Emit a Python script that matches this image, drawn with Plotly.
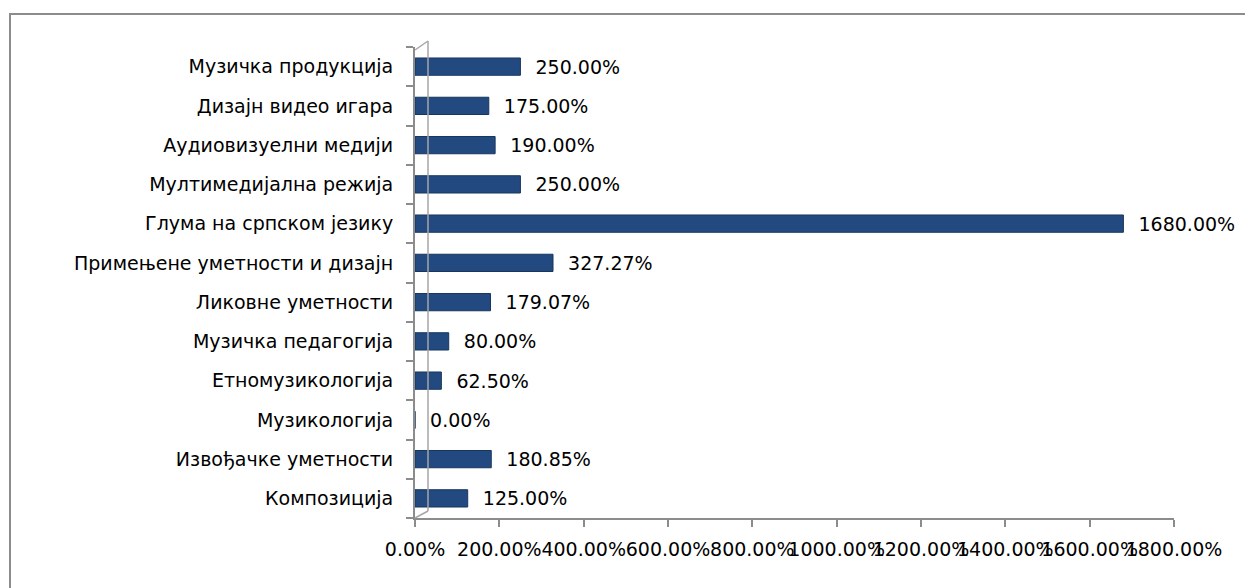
import plotly.graph_objects as go

programs = ["Музичка продукција", "Дизајн видео игара", "Аудиовизуелни медији",
            "Мултимедијална режија", "Глума на српском језику",
            "Примењене уметности и дизајн", "Ликовне уметности", "Музичка педагогија",
            "Етномузикологија", "Музикологија", "Извођачке уметности", "Композиција"]
growth = [250.00, 175.00, 190.00, 250.00, 1680.00, 327.27, 179.07, 80.00,
          62.50, 0.00, 180.85, 125.00]
x_ticks = [0, 200, 400, 600, 800, 1000, 1200, 1400, 1600, 1800]

# plotted bottom-to-top
cats = programs[::-1]
vals = growth[::-1]

# page body has an 8px margin, so the figure sits at (8, 8) in the window
OFF = 8
W, H = 1253 - OFF, 588 - OFF
L, R, T, B = 415 - OFF, W - (1174 - OFF), 47 - OFF, H - (518 - OFF)
pw, ph = W - L - R, H - T - B


def px(x):
    return (x - OFF - L) / pw


def py(y):
    return (H - B - (y - OFF)) / ph


FONT = "DejaVu Sans, Liberation Sans, Arial"
NB = "\u00a0\u00a0"

fig = go.Figure(go.Bar(
    x=vals, y=cats, orientation="h",
    marker=dict(color="#234A80", line=dict(color="#17365D", width=1)),
    width=0.44,
    text=[f"{NB}{v:.2f}%" for v in vals],
    textposition="outside",
    constraintext="none",
    textfont=dict(family=FONT, size=19, color="#000000"),
    cliponaxis=False,
    hovertemplate="%{y}: %{x:.2f}%<extra></extra>",
))

gray = "#8C8C8C"
wall = "#A6A6A6"
shapes = [
    # chart border
    dict(type="rect", xref="paper", yref="paper", x0=px(10), x1=px(1252),
         y0=py(620), y1=py(14), line=dict(color=gray, width=2)),
    # 3D back wall edge
    dict(type="line", xref="paper", yref="paper", x0=px(428), x1=px(428),
         y0=py(511), y1=py(41), line=dict(color=wall, width=1.5)),
    dict(type="line", xref="paper", yref="paper", x0=px(415), x1=px(428),
         y0=py(50), y1=py(41), line=dict(color=wall, width=1.5)),
    dict(type="line", xref="paper", yref="paper", x0=px(415), x1=px(428),
         y0=py(518), y1=py(511), line=dict(color=wall, width=1.5)),
]

fig.update_layout(
    width=W, height=H,
    margin=dict(l=L, r=R, t=T, b=B, autoexpand=False),
    paper_bgcolor="white", plot_bgcolor="white",
    showlegend=False,
    shapes=shapes,
    font=dict(family=FONT, color="#000000"),
    xaxis=dict(
        range=[0, 1800], tickvals=x_ticks,
        ticktext=[f"{t:.2f}%" for t in x_ticks],
        tickangle=0, automargin=False,
        showgrid=False, zeroline=False,
        showline=True, linecolor=gray, linewidth=2,
        ticks="outside", ticklen=7, tickcolor=gray, tickwidth=2,
        tickfont=dict(size=19),
        ticklabelstandoff=6,
    ),
    yaxis=dict(
        categoryorder="array", categoryarray=cats,
        automargin=False,
        showgrid=False, zeroline=False,
        showline=True, linecolor=gray, linewidth=2,
        ticks="outside", ticklen=7, tickcolor=gray, tickwidth=2,
        tickson="boundaries",
        tickfont=dict(size=19),
        ticklabelstandoff=16,
    ),
)

fig.write_html("out.html")
